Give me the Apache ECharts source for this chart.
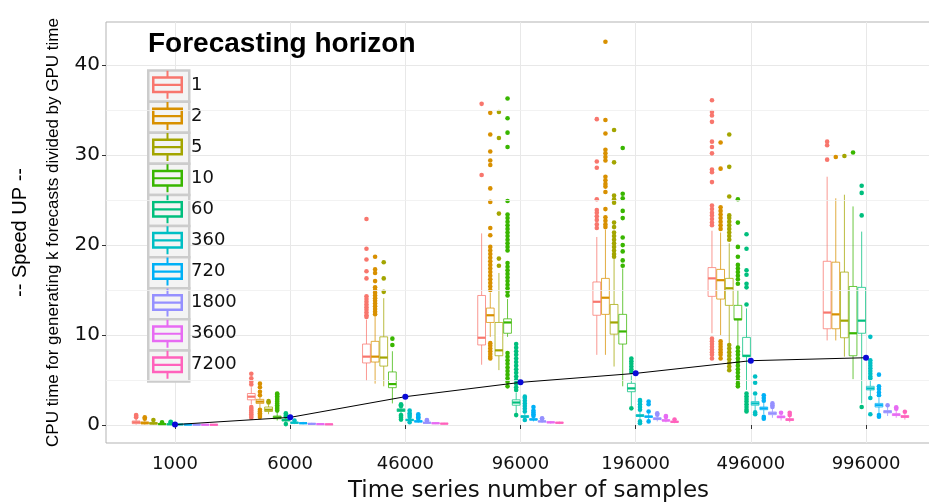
<!DOCTYPE html>
<html><head><meta charset="utf-8">
<script src="https://cdn.jsdelivr.net/npm/echarts@6/dist/echarts.min.js"></script>
<style>html,body{margin:0;padding:0;background:#fff}#c{width:929px;height:503px}</style>
</head><body><div id="c"></div><script>
// ---------- data ----------
const samples = ['1000','6000','46000','96000','196000','496000','996000'];
const horizons = ['1','2','5','10','60','360','720','1800','3600','7200'];
const colors = ['#F8766D','#D89000','#A3A500','#39B600','#00BF7D','#00BFC4','#00B0F6','#9590FF','#E76BF3','#FF62BC'];
const yTicks = [0,10,20,30,40];
const yMinor = [5,15,25,35];
// box stats per sample size: [lower whisker, Q1, median, Q3, upper whisker]
const box_h1 = [[0.05,0.15,0.3,0.45,0.7],[2.3,2.8,3.15,3.5,4.2],[4.9,6.9,7.6,9.0,11.7],[6.7,8.9,9.7,14.4,21.3],[7.8,12.2,13.7,15.9,20.9],[10.2,14.3,16.3,17.5,21.6],[9.4,10.7,12.5,18.2,27.6]];
const box_h2 = [[0.05,0.12,0.22,0.35,0.55],[1.9,2.4,2.6,2.85,3.1],[4.6,7.0,7.6,9.3,12.0],[9.8,11.4,12.2,13.0,14.7],[7.8,12.3,14.15,16.3,21.7],[10.0,14.0,16.1,17.3,21.4],[9.4,10.7,12.3,18.1,25.2]];
const box_h5 = [[0.05,0.1,0.18,0.28,0.45],[1.2,1.5,1.7,2.0,2.3],[4.3,6.55,7.5,9.8,14.1],[6.1,7.7,8.3,11.4,16.9],[6.5,10.1,11.4,13.4,18.5],[9.1,13.3,15.2,16.3,20.2],[7.6,9.7,11.6,17.0,25.6]];
const box_h10 = [[0.03,0.06,0.1,0.15,0.25],[0.5,0.7,0.85,1.0,1.4],[2.4,4.15,4.55,5.9,8.2],[9.8,10.2,11.4,11.8,14.0],[4.3,9.0,10.4,12.3,17.4],[8.7,11.7,11.75,13.3,15.0],[5.1,7.7,10.2,15.4,24.3]];
const box_h60 = [[0.02,0.05,0.08,0.12,0.2],[0.3,0.45,0.55,0.65,0.85],[1.2,1.5,1.65,1.8,2.0],[1.3,2.2,2.5,2.8,3.6],[2.1,3.7,4.07,4.63,5.5],[3.9,7.6,7.7,9.74,12.96],[2.4,10.2,11.6,15.3,21.5]];
const box_h360 = [[0.02,0.04,0.06,0.09,0.13],[0.1,0.2,0.25,0.32,0.45],[0.35,0.5,0.55,0.65,0.8],[0.6,0.85,0.93,1.05,1.3],[0.6,0.95,1.04,1.15,1.5],[1.6,2.2,2.4,2.6,3.2],[3.15,3.9,4.07,4.3,5.0]];
const box_h720 = [[0.01,0.03,0.05,0.07,0.1],[0.08,0.15,0.2,0.25,0.35],[0.25,0.35,0.4,0.48,0.6],[0.4,0.55,0.62,0.7,0.9],[0.5,0.85,0.93,1.0,1.3],[1.2,1.7,1.85,2.0,2.5],[1.3,2.0,2.2,2.4,3.0]];
const box_h1800 = [[0.01,0.02,0.04,0.06,0.08],[0.05,0.1,0.13,0.17,0.25],[0.15,0.22,0.25,0.3,0.4],[0.25,0.35,0.4,0.45,0.6],[0.4,0.6,0.7,0.8,1.0],[0.8,1.15,1.3,1.45,1.8],[1.0,1.35,1.48,1.6,2.0]];
const box_h3600 = [[0.01,0.02,0.03,0.05,0.07],[0.03,0.07,0.1,0.13,0.2],[0.1,0.15,0.2,0.24,0.3],[0.15,0.25,0.3,0.35,0.45],[0.3,0.45,0.5,0.6,0.8],[0.5,0.8,0.9,1.0,1.2],[0.8,1.05,1.15,1.25,1.6]];
const box_h7200 = [[0.01,0.02,0.03,0.04,0.06],[0.02,0.05,0.08,0.1,0.15],[0.08,0.12,0.15,0.18,0.25],[0.1,0.2,0.25,0.3,0.38],[0.2,0.3,0.35,0.42,0.55],[0.3,0.5,0.6,0.7,0.9],[0.6,0.85,0.93,1.05,1.3]];
// outliers per sample size
const out_h1 = [[0.85,1.0,1.1],[4.5,4.8,5.2,5.7,0.8,1.0,1.2,1.4,1.6,1.8,2.0],[22.9,19.6,18.4,17.1,16.3,14.3,14.0,13.7,13.4,13.1,12.8,12.5,12.2,12.0],[35.7,27.8],[34.0,29.3,28.6,25.1,23.9,23.6,23.2,22.8,22.3,21.9],[36.1,34.8,34.4,33.7,31.5,30.9,30.2,28.4,28.1,27.0,24.4,24.0,23.6,23.3,22.9,22.5,22.2,9.6,9.3,9.0,8.7,8.4,8.1,7.8,7.4],[31.5,31.1,29.5]];
const out_h2 = [[0.7,0.85],[3.3,3.7,4.2,4.6,0.9,1.1,1.3,1.5,1.7],[18.7,17.3,16.9,16.0,15.3,15.0,14.7,14.4,14.1,13.8,13.5,13.2,12.9,12.6,12.3],[34.7,32.3,30.4,29.4,28.9,26.3,24.8,21.9,21.1,19.8,19.4,19.0,18.6,18.2,17.8,17.4,17.0,16.6,16.2,15.8,15.4,15.0,9.1,8.8,8.5,8.2,7.9,7.6,7.4],[42.6,33.9,32.4,30.6,30.2,29.8,29.4,27.6,27.2,26.8,26.5,25.9,24.0,23.1,22.7,22.3,22.0],[31.4,28.5,24.2,23.8,23.4,23.0,22.6,22.2,21.8,9.3,9.0,8.7,8.4,8.1,7.8,7.4],[29.8]];
const out_h5 = [[0.55],[2.5,2.65],[18.1,16.3,14.8],[34.8,31.9,23.5,18.5,17.7],[32.8,29.2,25.5,25.1,24.7,22.5,22.0,21.4,21.0,20.6,20.2,19.8,19.4,19.0,18.7],[32.3,28.7,25.4,23.3,23.0,22.6,22.2,21.8,21.4,21.0,20.6,8.9,8.5,8.1,7.7,7.3,6.9,6.5,6.1],[29.9]];
const out_h10 = [[0.3],[1.6,1.8,2.0,2.2,2.4,2.6,2.8,3.0,3.2,3.4,3.5],[9.6,8.9],[36.3,34.1,32.5,30.9,24.9,23.4,23.0,22.6,22.2,21.8,21.4,21.0,20.6,20.2,19.8,19.4,18.0,17.6,17.2,16.8,16.4,16.0,15.6,15.2,14.8,14.4,8.0,7.6,7.2,6.8,6.4,6.0,5.6,5.2,4.8,4.3],[30.8,25.7,25.2,23.8,23.0,20.85,20.0,19.3,18.3,17.7],[25.1,22.5,19.8,18.7,17.8,17.4,17.0,16.6,16.2,15.7,8.6,8.2,7.8,7.4,7.0,6.6,6.2,5.8,5.4,5.0,4.6,4.3],[30.3]];
const out_h60 = [[0.3,0.35],[0.95,1.1,1.3,0.1],[2.1,2.2,2.3,0.6,0.8,1.0,1.1],[9.0,8.6,8.2,7.8,7.4,7.0,6.6,6.2,5.8,5.4,5.0,4.6,4.2,3.9,1.1],[7.4,7.1,6.8,6.5,6.2,5.9,1.85],[21.2,19.6,17.2,16.7,15.7,15.3,13.4,3.5,3.2,2.9,2.6,2.3,2.0,1.7,1.5],[26.6,25.8,23.3,2.0]];
const out_h360 = [[],[0.5],[0.3,0.9,1.1,1.3,1.6],[1.5,1.8,2.1,2.4,2.7,3.0,3.15,0.55],[1.7,2.0,2.3,2.6,2.78,0.2,0.4],[5.4,4.7,3.5,1.4,1.2],[9.8,7.2,6.9,6.6,6.3,6.0,5.7,5.4,5.2,3.0,1.2]];
const out_h720 = [[],[],[0.7,0.85,1.0,1.2],[1.0,1.2,1.4,1.6,2.0],[1.5,2.3,2.6,0.4],[2.7,3.0,3.3,0.9,0.7],[5.6,4.3,4.0,3.6,3.3,1.1,0.93]];
const out_h1800 = [[],[],[0.5,0.55],[0.7,0.74],[1.15,1.3],[2.0,2.2,2.4],[2.2]];
const out_h3600 = [[],[],[],[],[0.9,1.0],[1.37],[1.8,1.98]];
const out_h7200 = [[],[],[],[],[0.6],[1.1,1.37],[1.48]];
// black line with blue points (per sample size)
const speedLine = [0.05,0.85,3.15,4.74,5.74,7.15,7.48];

// ---------- build ----------
const boxes = [box_h1,box_h2,box_h5,box_h10,box_h60,box_h360,box_h720,box_h1800,box_h3600,box_h7200];
const outs = [out_h1,out_h2,out_h5,out_h10,out_h60,out_h360,out_h720,out_h1800,out_h3600,out_h7200];
const SLOT = 0.075;
function rgba(hex,a){const n=parseInt(hex.slice(1),16);return 'rgba('+((n>>16)&255)+','+((n>>8)&255)+','+(n&255)+','+a+')';}

const series = [];
series.push({type:'line', xAxisIndex:0, yAxisIndex:0, data:[[0.5,5]], showSymbol:false, lineStyle:{width:0}, silent:true, z:1,
  markLine:{silent:true, symbol:'none', label:{show:false}, lineStyle:{color:'#efefef', width:0.8, type:'solid'}, data:yMinor.map(v=>({yAxis:v}))}});
horizons.forEach((h,j)=>{
  const c = colors[j];
  series.push({
    type:'custom', name:h, xAxisIndex:1, yAxisIndex:1, z:3, clip:false,
    itemStyle:{color:c},
    data: boxes[j].map((b,i)=>[i].concat(b)),
    encode:{x:0, y:[1,2,3,4,5]},
    renderItem:function(params, api){
      const x = api.value(0) + (j-4.5)*SLOT;
      const p = [1,2,3,4,5].map(k=>api.coord([x, api.value(k)]));
      const cx = p[0][0];
      const w = api.size([SLOT,0])[0]*0.9;
      const lc = rgba(c,0.75);
      return {type:'group', children:[
        {type:'line', shape:{x1:cx,y1:p[0][1],x2:cx,y2:p[1][1]}, style:{stroke:lc,lineWidth:1}},
        {type:'line', shape:{x1:cx,y1:p[3][1],x2:cx,y2:p[4][1]}, style:{stroke:lc,lineWidth:1}},
        {type:'rect', shape:{x:cx-w/2,y:p[3][1],width:w,height:Math.max(p[1][1]-p[3][1],0.5)}, style:{fill:'#ffffff',stroke:lc,lineWidth:1}},
        {type:'line', shape:{x1:cx-w/2,y1:p[2][1],x2:cx+w/2,y2:p[2][1]}, style:{stroke:c,lineWidth:2.2}}
      ]};
    }
  });
});
horizons.forEach((h,j)=>{
  const pts = [];
  outs[j].forEach((arr,i)=>arr.forEach(v=>pts.push([i+(j-4.5)*SLOT, v])));
  series.push({type:'scatter', name:h, xAxisIndex:1, yAxisIndex:1, z:4, clip:false, symbolSize:4.6,
    itemStyle:{color:colors[j], opacity:1}, data:pts, silent:true});
});
series.push({type:'line', name:'speed', xAxisIndex:1, yAxisIndex:1, z:6, data:speedLine.map((v,i)=>[i,v]),
  lineStyle:{color:'#000', width:1}, symbol:'circle', symbolSize:6, itemStyle:{color:'#0a0ad8'}, silent:true});

const ICON = 'path://M0 5.5L31 5.5L31 22.5L0 22.5Z M2.5 8L2.5 20L28.5 20L28.5 8Z M2.5 13L28.5 13L28.5 15.2L2.5 15.2Z M14.5 0L16.5 0L16.5 5.5L14.5 5.5Z M14.5 22.5L16.5 22.5L16.5 28L14.5 28Z';

const keyRects = horizons.map((h,i)=>({type:'rect', left:147, top:69.3+i*31.1, z:3,
  shape:{width:41,height:31.1}, style:{fill:'#f4f4f4', stroke:'#cccccc', lineWidth:2.5}}));

const chart = echarts.init(document.getElementById('c'), null, {renderer:'canvas'});
chart.setOption({
  animation:false,
  backgroundColor:'#ffffff',
  title:{text:'Forecasting horizon', left:148, top:30, padding:0,
    textStyle:{fontFamily:'Liberation Sans', fontWeight:'bold', fontSize:28, color:'#000'}},
  legend:{orient:'vertical', left:152, top:70.85, padding:0, itemWidth:31, itemHeight:28, itemGap:3.1,
    selectedMode:false, icon:ICON, itemStyle:{borderWidth:0},
    textStyle:{fontFamily:'DejaVu Sans', fontSize:18, color:'#111', padding:[0,0,0,3]},
    data:horizons},
  graphic:keyRects,
  grid:[
    {left:106, top:22, width:829, height:421, outerBoundsMode:'none', containLabel:false, show:true, borderColor:'#b3b3b3', borderWidth:1, backgroundColor:'#fff'},
    {left:175, top:22, width:691, height:421, outerBoundsMode:'none', containLabel:false}
  ],
  xAxis:[
    {gridIndex:0, type:'value', min:0, max:1, show:false},
    {gridIndex:1, type:'value', min:0, max:6, interval:1,
      axisLine:{show:false}, axisTick:{show:true, length:4, lineStyle:{color:'#333'}},
      axisLabel:{formatter:v=>samples[v]||'', fontFamily:'DejaVu Sans', fontSize:18, color:'#111', margin:12},
      splitLine:{show:true, lineStyle:{color:'#e8e8e8', width:1}},
      name:'Time series number of samples', nameLocation:'middle', nameGap:37,
      nameTextStyle:{fontFamily:'DejaVu Sans', fontSize:23, color:'#111', padding:[0,0,0,16]}}
  ],
  yAxis:[
    {gridIndex:0, type:'value', min:-2, max:44.8,
      axisLine:{show:false},
      axisTick:{show:true, length:4, lineStyle:{color:'#333'}, customValues:yTicks},
      axisLabel:{fontFamily:'DejaVu Sans', fontSize:20, color:'#111', margin:6, customValues:yTicks},
      splitLine:{show:true, lineStyle:{color:'#e8e8e8', width:1}},
      name:'{a|-- Speed UP --}\n{b|CPU time for generating k forecasts divided by GPU time}',
      nameLocation:'middle', nameRotate:90, nameGap:36.5,
      nameTextStyle:{fontFamily:'Liberation Sans', color:'#000',
        rich:{a:{fontFamily:'Liberation Sans', fontSize:20, lineHeight:33, color:'#000'},
              b:{fontFamily:'Liberation Sans', fontSize:17, lineHeight:33, color:'#000'}}}},
    {gridIndex:1, type:'value', min:-2, max:44.8, show:false, splitLine:{show:false}}
  ],
  series:series
});
</script></body></html>
